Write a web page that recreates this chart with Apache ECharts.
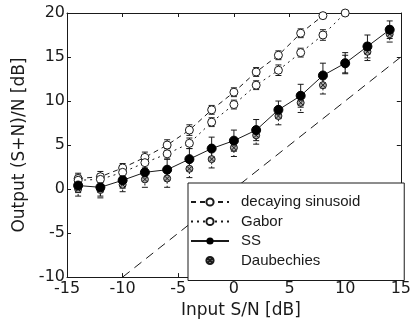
<!DOCTYPE html>
<html>
<head>
<meta charset="utf-8">
<script src="https://cdn.jsdelivr.net/npm/echarts@6/dist/echarts.min.js"></script>
<style>html,body{margin:0;padding:0;background:#fff;}#c{width:414px;height:324px;}</style>
</head>
<body>
<div id="c"></div>
<script>
// ---- data ----
const xDecaying = [-14,-12,-10,-8,-6,-4,-2,0,2,4,6,8];
const decaying  = [1.2,1.4,2.4,3.6,5.0,6.7,9.0,11.0,13.3,15.2,17.7,19.7];
const decayingErr = [0.6,0.6,0.5,0.6,0.6,0.6,0.5,0.5,0.5,0.5,0.5,0.3];
const xGabor = [-14,-12,-10,-8,-6,-4,-2,0,2,4,6,8,10];
const gabor  = [1.0,1.1,1.9,3.0,4.0,5.2,7.6,9.6,11.8,13.5,15.5,17.5,20.0];
const gaborErr = [0.6,0.6,0.5,0.6,0.6,0.6,0.5,0.5,0.5,0.6,0.5,0.6,0];
const xSS = [-14,-12,-10,-8,-6,-4,-2,0,2,4,6,8,10,12,14];
const ss   = [0.4,0.2,1.0,1.9,2.2,3.4,4.6,5.5,6.7,9.0,10.6,12.9,14.3,16.2,18.1];
const ssErr = [0.8,1.0,0.9,1.0,1.2,1.2,1.3,1.2,1.2,1.0,1.3,1.4,1.2,1.3,1.0];
const daub = [0.0,-0.1,0.5,1.1,1.2,2.3,3.4,4.7,6.1,8.3,9.8,11.8,14.2,15.6,17.6];
const daubErr = [0.8,0.9,0.8,0.9,1.0,1.0,1.0,1.0,1.0,1.0,1.1,1.0,1.0,1.0,0.9];
const refLine = [[-10,-10],[15,15]];
const xTicks = [-15,-10,-5,0,5,10,15];
const yTicks = [-10,-5,0,5,10,15,20];

const pairs = (xs, ys) => xs.map((x,i)=>[x, ys[i]]);
const errs = (xs, ys, es) => xs.map((x,i)=>[x, ys[i]-es[i], ys[i]+es[i]]).filter((d,i)=>es[i]>0);

const axisFont = 'DejaVu Sans';
const ink = '#1a1a1a';

function errRenderer(color, dash){
  return function(params, api){
    const x = api.value(0), lo = api.value(1), hi = api.value(2);
    const pt = api.coord([x, hi]), pb = api.coord([x, lo]);
    const w = 3;
    const st = {stroke: color, lineWidth: 1, lineDash: dash};
    const st2 = {stroke: color, lineWidth: 1};
    return {type:'group', children:[
      {type:'line', shape:{x1:pt[0], y1:pt[1], x2:pb[0], y2:pb[1]}, style: st},
      {type:'line', shape:{x1:pt[0]-w, y1:pt[1], x2:pt[0]+w, y2:pt[1]}, style: st2},
      {type:'line', shape:{x1:pb[0]-w, y1:pb[1], x2:pb[0]+w, y2:pb[1]}, style: st2}
    ]};
  };
}

const chart = echarts.init(document.getElementById('c'), null, {renderer:'canvas'});
const tickFmt = v => String(v);
const commonAxis = {
  axisLine:{show:true, onZero:false, lineStyle:{color:ink, width:1}},
  axisTick:{show:true, inside:true, length:4, lineStyle:{color:ink}},
  splitLine:{show:false}
};
const circX = 'path://M0,-10A10,10 0 1,1 0,10A10,10 0 1,1 0,-10ZM-7,-7L7,7M7,-7L-7,7';

chart.setOption({
  animation:false,
  backgroundColor:'#fff',
  grid:{left:67, right:11, top:13, bottom:41, containLabel:false},
  legend:{
    data:['decaying sinusoid','Gabor','SS','Daubechies'],
    orient:'vertical', left:188, top:183,
    itemWidth:38, itemHeight:9, itemGap:1.5,
    padding:[10,44,11,2],
    backgroundColor:'#fff', borderColor:ink, borderWidth:1, borderRadius:0,
    textStyle:{fontFamily:'Liberation Sans', fontSize:15, color:ink, padding:[0,0,0,7], lineHeight:18},
    selectedMode:false
  },
  xAxis:[
    Object.assign({type:'value', min:-15, max:15, interval:5, position:'bottom',
      name:'Input S/N [dB]', nameLocation:'middle', nameGap:19,
      nameTextStyle:{fontFamily:axisFont, fontSize:17, color:ink, padding:[0,0,0,14]},
      axisLabel:{fontFamily:axisFont, fontSize:16, color:ink, margin:4, formatter:tickFmt}}, commonAxis),
    Object.assign({type:'value', min:-15, max:15, interval:5, position:'top', axisLabel:{show:false}}, commonAxis)
  ],
  yAxis:[
    Object.assign({type:'value', min:-10, max:20, interval:5, position:'left',
      name:'Output (S+N)/N [dB]', nameLocation:'middle', nameGap:31,
      nameTextStyle:{fontFamily:axisFont, fontSize:17, color:ink},
      axisLabel:{fontFamily:axisFont, fontSize:16, color:ink, margin:2, formatter:tickFmt}}, commonAxis),
    Object.assign({type:'value', min:-10, max:20, interval:5, position:'right', axisLabel:{show:false}}, commonAxis)
  ],
  series:[
    {type:'line', name:'ref', data:refLine, symbol:'none', silent:true,
      lineStyle:{color:ink, width:1, type:[9,6]}, z:1},
    {type:'custom', name:'decErr', renderItem:errRenderer(ink, null), data:errs(xDecaying, decaying, decayingErr), z:2, silent:true},
    {type:'custom', name:'gabErr', renderItem:errRenderer(ink, [1,2]), data:errs(xGabor, gabor, gaborErr), z:2, silent:true},
    {type:'custom', name:'ssErr', renderItem:errRenderer(ink, null), data:errs(xSS, ss, ssErr), z:2, silent:true},
    {type:'custom', name:'daubErr', renderItem:errRenderer(ink, [2,2]), data:errs(xSS, daub, daubErr), z:2, silent:true},
    {type:'line', name:'decaying sinusoid', data:pairs(xDecaying, decaying),
      symbol:'circle', symbolSize:8, showAllSymbol:true,
      lineStyle:{color:ink, width:1, type:[5,4]},
      itemStyle:{color:'#fff', borderColor:ink, borderWidth:1}, z:4},
    {type:'line', name:'Gabor', data:pairs(xGabor, gabor),
      symbol:'circle', symbolSize:8, showAllSymbol:true,
      lineStyle:{color:ink, width:1, type:[2,4]},
      itemStyle:{color:'#fff', borderColor:ink, borderWidth:1}, z:4},
    {type:'line', name:'Daubechies', data:pairs(xSS, daub),
      symbol:circX, symbolSize:7, showAllSymbol:true,
      lineStyle:{width:0, opacity:0},
      itemStyle:{color:'#aaa', borderColor:ink, borderWidth:1}, z:4},
    {type:'line', name:'SS', data:pairs(xSS, ss),
      symbol:'circle', symbolSize:9, showAllSymbol:true,
      lineStyle:{color:ink, width:1},
      itemStyle:{color:'#000', borderColor:'#000'}, z:5}
  ]
});
</script>
</body>
</html>
